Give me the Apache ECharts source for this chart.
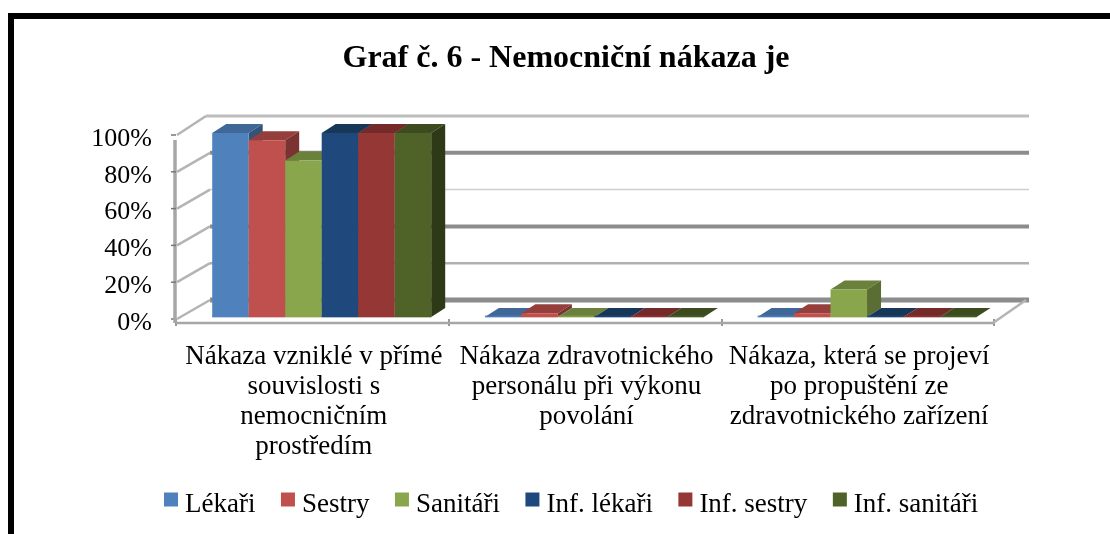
<!DOCTYPE html>
<html><head><meta charset="utf-8">
<style>html,body{margin:0;padding:0;background:#fff}#c{width:1110px;height:534px}</style>
<script src="https://cdn.jsdelivr.net/npm/echarts@6/dist/echarts.min.js"></script>
</head><body><div id="c"></div>
<script>
const categories = ['Nákaza vzniklé v přímé\nsouvislosti s\nnemocničním\nprostředím','Nákaza zdravotnického\npersonálu při výkonu\npovolání','Nákaza, která se projeví\npo propuštění ze\nzdravotnického zařízení'];
const seriesNames = ['Lékaři','Sestry','Sanitáři','Inf. lékaři','Inf. sestry','Inf. sanitáři'];
const lekari = [100,0,0];
const sestry = [96,2,2];
const sanitari = [85,0,15];
const infLekari = [100,0,0];
const infSestry = [100,0,0];
const infSanitari = [100,0,0];
const seriesValues = [lekari,sestry,sanitari,infLekari,infSestry,infSanitari];
const yTicks = [0,20,40,60,80,100];

const colors = ['#4f81bd','#c0504d','#8aa64c','#1f497d','#953735','#4f6228'];
const tops = ['#3f6797','#953f3c','#6b813b','#173759','#742a29','#3d4c1f'];
const sides = ['#335478','#7a3331','#5a6d32','#122b45','#5f2221','#2e3917'];
const gridWidths = [5,2.5,4,1.5,4,3];
const gridCols = ['#8c8c8c','#b0b0b0','#8c8c8c','#cfcfcf','#8c8c8c','#bdbdbd'];
const DX=30, DY=-19, BX=14, BY=-9;
const GX0=176, GX1=994, Y0=319, Y100=135;

const chart = echarts.init(document.getElementById('c'));
const serif = '"Liberation Serif","Times New Roman",serif';

const series = [{
  type:'custom', coordinateSystem:'cartesian2d', silent:true, z:1,
  data: yTicks.map(t=>[0,t]),
  encode:{y:1},
  renderItem(p,api){
    const v=api.value(1), i=p.dataIndex;
    const pt=api.coord([0,v]);
    const x0=GX0, x1=GX1-1, y=pt[1];
    const isTop=i===yTicks.length-1;
    const dEnd=isTop?DX:DX+4;
    const kids=[
      {type:'line',shape:{x1:x0+dEnd,y1:y+DY,x2:x1+DX+6,y2:y+DY},style:{stroke:gridCols[i],lineWidth:gridWidths[i]}},
      {type:'line',shape:{x1:x0+1,y1:y,x2:x0+dEnd,y2:y+DY},style:{stroke:'#b4b4b4',lineWidth:2.5}},
      {type:'line',shape:{x1:x0-5,y1:y,x2:x0,y2:y},style:{stroke:'#777',lineWidth:1.5}}
    ];
    if(i===0){
      kids.push({type:'line',shape:{x1:x1,y1:y+4,x2:x1+DX+3,y2:y+DY},style:{stroke:'#b4b4b4',lineWidth:2.5}});
      kids.push({type:'line',shape:{x1:x0,y1:y+4,x2:x1,y2:y+4},style:{stroke:'#a6a6a6',lineWidth:2.5}});
      kids.push({type:'line',shape:{x1:x0-1,y1:y+4,x2:x0-1,y2:Y100+5},style:{stroke:'#a6a6a6',lineWidth:3.5}});
    }
    return {type:'group',children:kids};
  }
}];

seriesNames.forEach((name,s)=>{
  series.push({
    name, type:'custom', coordinateSystem:'cartesian2d', silent:true, z:2+s,
    data: seriesValues[s].map((v,i)=>[i,v]),
    encode:{x:0,y:1},
    itemStyle:{color:colors[s]},
    renderItem(p,api){
      const c=api.value(0), v=api.value(1);
      const band=api.size([1,0])[0];
      const base=api.coord([c,0]), top=api.coord([c,v]);
      const left=base[0]-band/2+36.2+s*36.5, w=36.5;
      const yb=base[1]-2, yt=top[1]-2;
      const cs=[];
      cs.push({type:'polygon',shape:{points:[[left,yt],[left+BX,yt+BY],[left+w+BX,yt+BY],[left+w,yt]]},style:{fill:tops[s]}});
      cs.push({type:'polygon',shape:{points:[[left+w,yt],[left+w+BX,yt+BY],[left+w+BX,yb+BY],[left+w,yb]]},style:{fill:sides[s]}});
      if(yb-yt>0.5) cs.push({type:'rect',shape:{x:left,y:yt,width:w,height:yb-yt},style:{fill:colors[s]}});
      cs.push({type:'rect',shape:{x:left,y:yb-1.5,width:w,height:2},style:{fill:colors[s],opacity:0.7}});
      return {type:'group',children:cs};
    }
  });
});

chart.setOption({
  animation:false,
  backgroundColor:'#fff',
  title:{text:'Graf č. 6 - Nemocniční nákaza je',left:561,top:38,textAlign:'center',
    textStyle:{fontFamily:serif,fontWeight:'bold',fontSize:32,color:'#000'}},
  legend:{top:491,left:164,padding:0,itemGap:25.5,itemWidth:14,itemHeight:14,icon:'rect',
    data:seriesNames.map((name,i)=>({name,itemStyle:{color:colors[i]}})),
    formatter:'{t|{name}}',
    textStyle:{rich:{t:{fontFamily:serif,fontSize:27,color:'#000',padding:[10,0,0,2]}}}},
  grid:{left:GX0,right:1110-GX1,top:Y100,height:Y0-Y100,containLabel:false},
  xAxis:{type:'category',data:categories,boundaryGap:true,offset:1,
    axisLine:{show:false},axisTick:{show:true,length:7,lineStyle:{color:'#777',width:1.5}},
    axisLabel:{fontFamily:serif,fontSize:27,color:'#000',lineHeight:30,margin:22,interval:0,padding:[0,0,0,3]}},
  yAxis:{type:'value',min:0,max:100,interval:20,
    axisLine:{show:false},axisTick:{show:false},splitLine:{show:false},
    axisLabel:{margin:24,formatter:'{t|{value}%}',rich:{t:{fontFamily:serif,fontSize:26,color:'#000',padding:[8,0,0,0]}}}},
  graphic:[
    {type:'rect',z:100,silent:true,shape:{x:8,y:13,width:1102,height:6},style:{fill:'#000'}},
    {type:'rect',z:100,silent:true,shape:{x:8,y:13,width:6,height:521},style:{fill:'#000'}}
  ],
  series
});
</script></body></html>
